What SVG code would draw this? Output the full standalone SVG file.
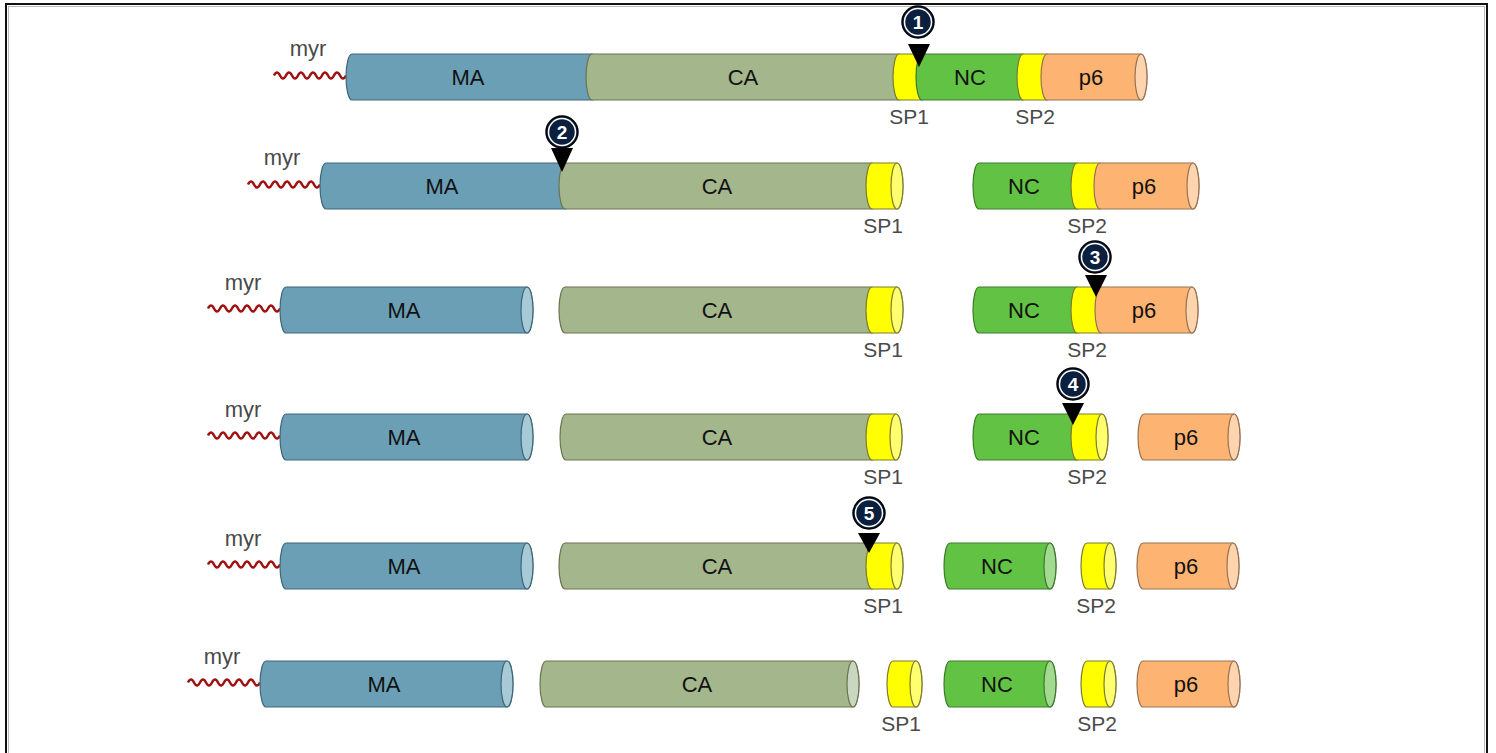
<svg xmlns="http://www.w3.org/2000/svg" width="1496" height="753" viewBox="0 0 1496 753">
<style>
.ma{fill:#6a9fb6;stroke:#3e6878;stroke-width:1.2}
.ma-cap{fill:#a8c9d6;stroke:#3e6878;stroke-width:1.2}
.ca{fill:#a3b68c;stroke:#6a7552;stroke-width:1.2}
.ca-cap{fill:#cbd6c0;stroke:#6a7552;stroke-width:1.2}
.sp{fill:#ffff00;stroke:#7d7d30;stroke-width:1.2}
.sp-cap{fill:#ffff70;stroke:#7d7d30;stroke-width:1.2}
.nc{fill:#62c244;stroke:#3e7a2c;stroke-width:1.2}
.nc-cap{fill:#a3da92;stroke:#3e7a2c;stroke-width:1.2}
.p6{fill:#fdb472;stroke:#9a7252;stroke-width:1.2}
.p6-cap{fill:#fdd4ad;stroke:#9a7252;stroke-width:1.2}
.lbl{font-family:"Liberation Sans",Arial,sans-serif;font-size:22px;fill:#111;text-anchor:middle}
.sub{font-family:"Liberation Sans",Arial,sans-serif;font-size:21px;fill:#4a4a4a;text-anchor:middle}
.myr{font-family:"Liberation Sans",Arial,sans-serif;font-size:22px;fill:#4a4a4a;text-anchor:middle}
.wave{fill:none;stroke:#a01212;stroke-width:2.5}
.mk-c{fill:#0b1f3f;stroke:#000;stroke-width:1.5}
.mk-r{fill:none;stroke:#fff;stroke-width:1.5}
.mk-t{fill:#000}
.mk-n{font-family:"Liberation Sans",Arial,sans-serif;font-size:19px;font-weight:bold;fill:#fff;text-anchor:middle}
</style>
<rect x="6" y="4" width="1481" height="770" fill="#fff" stroke="#111" stroke-width="2"/>
<rect x="8.5" y="6.5" width="1476" height="770" fill="none" stroke="#bbb" stroke-width="1"/>

<g id="connectors">
<path class="wave" d="M274,75.5 q3,-6 6,0 t6,0 t6,0 t6,0 t6,0 t6,0 t6,0 t6,0 t6,0 t6,0 t6,0 t6,0"/>
<path class="wave" d="M248,184.5 q3,-6 6,0 t6,0 t6,0 t6,0 t6,0 t6,0 t6,0 t6,0 t6,0 t6,0 t6,0 t6,0"/>
<path class="wave" d="M208,308.5 q3,-6 6,0 t6,0 t6,0 t6,0 t6,0 t6,0 t6,0 t6,0 t6,0 t6,0 t6,0 t6,0"/>
<path class="wave" d="M208,435.5 q3,-6 6,0 t6,0 t6,0 t6,0 t6,0 t6,0 t6,0 t6,0 t6,0 t6,0 t6,0 t6,0"/>
<path class="wave" d="M208,564.5 q3,-6 6,0 t6,0 t6,0 t6,0 t6,0 t6,0 t6,0 t6,0 t6,0 t6,0 t6,0 t6,0"/>
<path class="wave" d="M188,682.5 q3,-6 6,0 t6,0 t6,0 t6,0 t6,0 t6,0 t6,0 t6,0 t6,0 t6,0 t6,0 t6,0"/>
</g>

<!-- Row 1 -->
<g id="row1">
<text class="myr" x="308" y="56">myr</text>
<g id="r1-MA"><path class="ma" d="M352,54 L592,54 A6,23 0 0 1 592,100 L352,100 A6,23 0 0 1 352,54 Z"/><text class="lbl" x="468" y="85">MA</text></g>
<g id="r1-CA"><path class="ca" d="M592,54 L899,54 A6,23 0 0 1 899,100 L592,100 A6,23 0 0 1 592,54 Z"/><text class="lbl" x="743" y="85">CA</text></g>
<g id="r1-SP1"><path class="sp" d="M899,54 L922,54 A6,23 0 0 1 922,100 L899,100 A6,23 0 0 1 899,54 Z"/><text class="sub" x="909" y="124">SP1</text></g>
<g id="r1-NC"><path class="nc" d="M922,54 L1023,54 A6,23 0 0 1 1023,100 L922,100 A6,23 0 0 1 922,54 Z"/><text class="lbl" x="970" y="85">NC</text></g>
<g id="r1-SP2"><path class="sp" d="M1023,54 L1047,54 A6,23 0 0 1 1047,100 L1023,100 A6,23 0 0 1 1023,54 Z"/><text class="sub" x="1035" y="124">SP2</text></g>
<g id="r1-p6"><path class="p6" d="M1047,54 L1141,54 A6,23 0 0 1 1141,100 L1047,100 A6,23 0 0 1 1047,54 Z"/><ellipse class="p6-cap" cx="1141" cy="77" rx="6" ry="23"/><text class="lbl" x="1091" y="85">p6</text></g>
</g>

<!-- Row 2 -->
<g id="row2">
<text class="myr" x="282" y="165">myr</text>
<g id="r2-MA"><path class="ma" d="M326,163 L565,163 A6,23 0 0 1 565,209 L326,209 A6,23 0 0 1 326,163 Z"/><text class="lbl" x="442" y="194">MA</text></g>
<g id="r2-CA"><path class="ca" d="M565,163 L872,163 A6,23 0 0 1 872,209 L565,209 A6,23 0 0 1 565,163 Z"/><text class="lbl" x="717" y="194">CA</text></g>
<g id="r2-SP1"><path class="sp" d="M872,163 L897,163 A6,23 0 0 1 897,209 L872,209 A6,23 0 0 1 872,163 Z"/><ellipse class="sp-cap" cx="897" cy="186" rx="6" ry="23"/><text class="sub" x="883" y="233">SP1</text></g>
<g id="r2-NC"><path class="nc" d="M979,163 L1077,163 A6,23 0 0 1 1077,209 L979,209 A6,23 0 0 1 979,163 Z"/><text class="lbl" x="1024" y="194">NC</text></g>
<g id="r2-SP2"><path class="sp" d="M1077,163 L1100,163 A6,23 0 0 1 1100,209 L1077,209 A6,23 0 0 1 1077,163 Z"/><text class="sub" x="1087" y="233">SP2</text></g>
<g id="r2-p6"><path class="p6" d="M1100,163 L1193,163 A6,23 0 0 1 1193,209 L1100,209 A6,23 0 0 1 1100,163 Z"/><ellipse class="p6-cap" cx="1193" cy="186" rx="6" ry="23"/><text class="lbl" x="1144" y="194">p6</text></g>
</g>

<!-- Row 3 -->
<g id="row3">
<text class="myr" x="243" y="290">myr</text>
<g id="r3-MA"><path class="ma" d="M286,287 L527,287 A6,23 0 0 1 527,333 L286,333 A6,23 0 0 1 286,287 Z"/><ellipse class="ma-cap" cx="527" cy="310" rx="6" ry="23"/><text class="lbl" x="404" y="318">MA</text></g>
<g id="r3-CA"><path class="ca" d="M565,287 L872,287 A6,23 0 0 1 872,333 L565,333 A6,23 0 0 1 565,287 Z"/><text class="lbl" x="717" y="318">CA</text></g>
<g id="r3-SP1"><path class="sp" d="M872,287 L897,287 A6,23 0 0 1 897,333 L872,333 A6,23 0 0 1 872,287 Z"/><ellipse class="sp-cap" cx="897" cy="310" rx="6" ry="23"/><text class="sub" x="883" y="357">SP1</text></g>
<g id="r3-NC"><path class="nc" d="M979,287 L1077,287 A6,23 0 0 1 1077,333 L979,333 A6,23 0 0 1 979,287 Z"/><text class="lbl" x="1024" y="318">NC</text></g>
<g id="r3-SP2"><path class="sp" d="M1077,287 L1101,287 A6,23 0 0 1 1101,333 L1077,333 A6,23 0 0 1 1077,287 Z"/><text class="sub" x="1087" y="357">SP2</text></g>
<g id="r3-p6"><path class="p6" d="M1101,287 L1192,287 A6,23 0 0 1 1192,333 L1101,333 A6,23 0 0 1 1101,287 Z"/><ellipse class="p6-cap" cx="1192" cy="310" rx="6" ry="23"/><text class="lbl" x="1144" y="318">p6</text></g>
</g>

<!-- Row 4 -->
<g id="row4">
<text class="myr" x="243" y="417">myr</text>
<g id="r4-MA"><path class="ma" d="M286,414 L527,414 A6,23 0 0 1 527,460 L286,460 A6,23 0 0 1 286,414 Z"/><ellipse class="ma-cap" cx="527" cy="437" rx="6" ry="23"/><text class="lbl" x="404" y="445">MA</text></g>
<g id="r4-CA"><path class="ca" d="M566,414 L872,414 A6,23 0 0 1 872,460 L566,460 A6,23 0 0 1 566,414 Z"/><text class="lbl" x="717" y="445">CA</text></g>
<g id="r4-SP1"><path class="sp" d="M872,414 L896,414 A6,23 0 0 1 896,460 L872,460 A6,23 0 0 1 872,414 Z"/><ellipse class="sp-cap" cx="896" cy="437" rx="6" ry="23"/><text class="sub" x="883" y="484">SP1</text></g>
<g id="r4-NC"><path class="nc" d="M979,414 L1077,414 A6,23 0 0 1 1077,460 L979,460 A6,23 0 0 1 979,414 Z"/><text class="lbl" x="1024" y="445">NC</text></g>
<g id="r4-SP2"><path class="sp" d="M1077,414 L1102,414 A6,23 0 0 1 1102,460 L1077,460 A6,23 0 0 1 1077,414 Z"/><ellipse class="sp-cap" cx="1102" cy="437" rx="6" ry="23"/><text class="sub" x="1087" y="484">SP2</text></g>
<g id="r4-p6"><path class="p6" d="M1144,414 L1234,414 A6,23 0 0 1 1234,460 L1144,460 A6,23 0 0 1 1144,414 Z"/><ellipse class="p6-cap" cx="1234" cy="437" rx="6" ry="23"/><text class="lbl" x="1186" y="445">p6</text></g>
</g>

<!-- Row 5 -->
<g id="row5">
<text class="myr" x="243" y="546">myr</text>
<g id="r5-MA"><path class="ma" d="M286,543 L527,543 A6,23 0 0 1 527,589 L286,589 A6,23 0 0 1 286,543 Z"/><ellipse class="ma-cap" cx="527" cy="566" rx="6" ry="23"/><text class="lbl" x="404" y="574">MA</text></g>
<g id="r5-CA"><path class="ca" d="M565,543 L872,543 A6,23 0 0 1 872,589 L565,589 A6,23 0 0 1 565,543 Z"/><text class="lbl" x="717" y="574">CA</text></g>
<g id="r5-SP1"><path class="sp" d="M872,543 L897,543 A6,23 0 0 1 897,589 L872,589 A6,23 0 0 1 872,543 Z"/><ellipse class="sp-cap" cx="897" cy="566" rx="6" ry="23"/><text class="sub" x="883" y="613">SP1</text></g>
<g id="r5-NC"><path class="nc" d="M950,543 L1050,543 A6,23 0 0 1 1050,589 L950,589 A6,23 0 0 1 950,543 Z"/><ellipse class="nc-cap" cx="1050" cy="566" rx="6" ry="23"/><text class="lbl" x="997" y="574">NC</text></g>
<g id="r5-SP2"><path class="sp" d="M1087,543 L1110,543 A6,23 0 0 1 1110,589 L1087,589 A6,23 0 0 1 1087,543 Z"/><ellipse class="sp-cap" cx="1110" cy="566" rx="6" ry="23"/><text class="sub" x="1096" y="613">SP2</text></g>
<g id="r5-p6"><path class="p6" d="M1143,543 L1233,543 A6,23 0 0 1 1233,589 L1143,589 A6,23 0 0 1 1143,543 Z"/><ellipse class="p6-cap" cx="1233" cy="566" rx="6" ry="23"/><text class="lbl" x="1186" y="574">p6</text></g>
</g>

<!-- Row 6 -->
<g id="row6">
<text class="myr" x="222" y="664">myr</text>
<g id="r6-MA"><path class="ma" d="M266,661 L507,661 A6,23 0 0 1 507,707 L266,707 A6,23 0 0 1 266,661 Z"/><ellipse class="ma-cap" cx="507" cy="684" rx="6" ry="23"/><text class="lbl" x="384" y="692">MA</text></g>
<g id="r6-CA"><path class="ca" d="M546,661 L853,661 A6,23 0 0 1 853,707 L546,707 A6,23 0 0 1 546,661 Z"/><ellipse class="ca-cap" cx="853" cy="684" rx="6" ry="23"/><text class="lbl" x="697" y="692">CA</text></g>
<g id="r6-SP1"><path class="sp" d="M893,661 L916,661 A6,23 0 0 1 916,707 L893,707 A6,23 0 0 1 893,661 Z"/><ellipse class="sp-cap" cx="916" cy="684" rx="6" ry="23"/><text class="sub" x="901" y="731">SP1</text></g>
<g id="r6-NC"><path class="nc" d="M950,661 L1050,661 A6,23 0 0 1 1050,707 L950,707 A6,23 0 0 1 950,661 Z"/><ellipse class="nc-cap" cx="1050" cy="684" rx="6" ry="23"/><text class="lbl" x="997" y="692">NC</text></g>
<g id="r6-SP2"><path class="sp" d="M1087,661 L1110,661 A6,23 0 0 1 1110,707 L1087,707 A6,23 0 0 1 1087,661 Z"/><ellipse class="sp-cap" cx="1110" cy="684" rx="6" ry="23"/><text class="sub" x="1097" y="731">SP2</text></g>
<g id="r6-p6"><path class="p6" d="M1143,661 L1234,661 A6,23 0 0 1 1234,707 L1143,707 A6,23 0 0 1 1143,661 Z"/><ellipse class="p6-cap" cx="1234" cy="684" rx="6" ry="23"/><text class="lbl" x="1186" y="692">p6</text></g>
</g>

<!-- Cleavage markers -->
<g id="marker1"><polygon class="mk-t" points="908,44 930,44 919,67"/><circle class="mk-c" cx="918" cy="22" r="16"/><circle class="mk-r" cx="918" cy="22" r="13.5"/><text class="mk-n" x="918" y="29">1</text></g>
<g id="marker2"><polygon class="mk-t" points="551,148 573,148 562,172"/><circle class="mk-c" cx="562" cy="132" r="16"/><circle class="mk-r" cx="562" cy="132" r="13.5"/><text class="mk-n" x="562" y="139">2</text></g>
<g id="marker3"><polygon class="mk-t" points="1085,275 1107,275 1096,297"/><circle class="mk-c" cx="1095" cy="257" r="16"/><circle class="mk-r" cx="1095" cy="257" r="13.5"/><text class="mk-n" x="1095" y="264">3</text></g>
<g id="marker4"><polygon class="mk-t" points="1062,403 1084,403 1073,425"/><circle class="mk-c" cx="1073" cy="384" r="16"/><circle class="mk-r" cx="1073" cy="384" r="13.5"/><text class="mk-n" x="1073" y="391">4</text></g>
<g id="marker5"><polygon class="mk-t" points="858,533 880,533 869,553"/><circle class="mk-c" cx="869" cy="513" r="16"/><circle class="mk-r" cx="869" cy="513" r="13.5"/><text class="mk-n" x="869" y="520">5</text></g>
</svg>
